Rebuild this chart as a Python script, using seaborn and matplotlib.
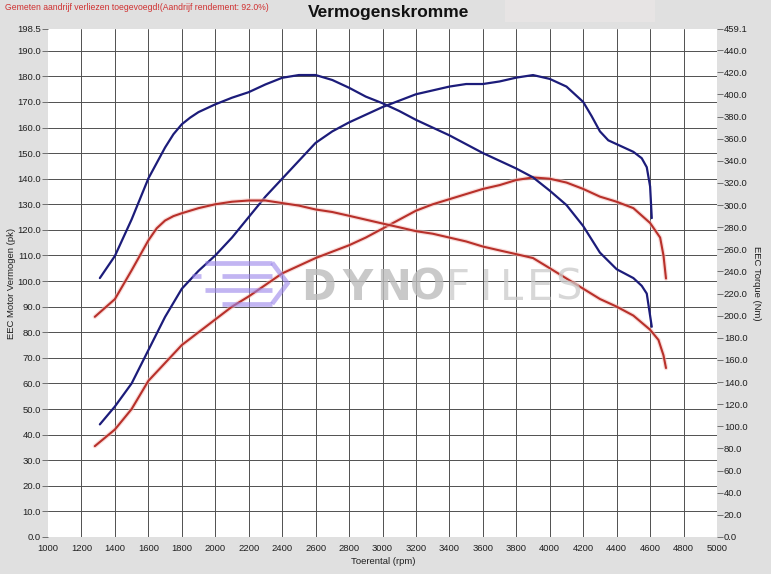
import matplotlib
matplotlib.use("Agg")
import matplotlib.pyplot as plt
import seaborn as sns
import pandas as pd
from matplotlib.patches import Rectangle, Polygon

# ---------------- data ----------------
blue_power_rpm = [1310, 1400, 1500, 1600, 1700, 1800, 1900, 2000, 2100, 2200, 2300, 2400, 2500, 2600,
                  2700, 2800, 2900, 3000, 3100, 3200, 3300, 3400, 3500, 3600, 3700, 3800, 3900, 4000,
                  4100, 4200, 4250, 4300, 4350, 4400, 4500, 4550, 4580, 4600, 4610]
blue_power_pk = [44, 51, 60, 73, 86, 97, 104, 110, 117, 125, 133, 140, 147, 154,
                 158.5, 162, 165, 168, 170.5, 173, 174.5, 176, 177, 177, 178, 179.5, 180.5, 179,
                 176, 170, 164.5, 158.5, 155, 153.5, 150.5, 148, 144.5, 137, 124.6]

blue_torque_rpm = [1310, 1400, 1500, 1600, 1700, 1750, 1800, 1850, 1900, 2000, 2100, 2200, 2300, 2400,
                   2500, 2600, 2700, 2800, 2900, 3000, 3100, 3200, 3300, 3400, 3500, 3600, 3700, 3800,
                   3900, 4000, 4100, 4200, 4300, 4400, 4500, 4550, 4580, 4610]
blue_torque_nm = [234, 254, 287, 324, 352, 364, 373, 379, 384, 391, 397, 402, 409, 415,
                  417.5, 417.5, 413, 406, 398, 392, 385, 377, 370, 363, 355, 347, 340, 333,
                  325, 313, 300, 281, 257, 242, 234, 227, 220, 190]

red_power_rpm = [1280, 1400, 1500, 1600, 1700, 1800, 1900, 2000, 2100, 2200, 2300, 2400, 2500, 2600,
                 2700, 2800, 2900, 3000, 3100, 3200, 3300, 3400, 3500, 3600, 3700, 3800, 3900, 4000,
                 4100, 4200, 4300, 4400, 4500, 4600, 4660, 4680, 4695]
red_power_pk = [35.5, 42, 50, 61, 68, 75, 80, 85, 90, 94, 98.5, 103, 106, 109,
                111.5, 114, 117, 120.5, 124, 127.5, 130, 132, 134, 136, 137.5, 139.5, 140.5, 140,
                138.5, 136, 133, 131, 128.5, 122.7, 117, 110, 101]

red_torque_rpm = [1280, 1400, 1500, 1600, 1650, 1700, 1750, 1800, 1900, 2000, 2100, 2200, 2300, 2400,
                  2500, 2600, 2700, 2800, 2900, 3000, 3100, 3200, 3300, 3400, 3500, 3600, 3700, 3800,
                  3900, 4000, 4100, 4200, 4300, 4400, 4500, 4600, 4650, 4680, 4695]
red_torque_nm = [199, 215, 241, 268, 279, 286, 290, 292.6, 297.2, 300.7, 303, 304.1, 304.1, 301.8,
                 299.5, 296, 293.7, 290.3, 286.8, 283.3, 279.9, 276.4, 274.1, 270.6, 267.1, 262.5, 259, 255.6,
                 252.1, 242.9, 233.6, 224.4, 215.1, 208.2, 200.1, 187.3, 178.1, 164.2, 152.7]

x_ticks = list(range(1000, 5001, 200))
left_ticks = list(range(0, 191, 10)) + [198.5]
right_ticks = list(range(0, 441, 20)) + [459.1]

title = "Vermogenskromme"
note = "Gemeten aandrijf verliezen toegevoegd!(Aandrijf rendement: 92.0%)"
xlabel = "Toerental (rpm)"
ylabel_left = "EEC Motor Vermogen (pk)"
ylabel_right = "EEC Torque (Nm)"

# ---------------- style ----------------
sns.set_style("white")
plt.rcParams['font.family'] = ['Liberation Sans', 'DejaVu Sans']

BG = "#e0e0e0"
BLUE = "#1c1c7a"
RED = "#b8302a"
GLOW = "#f4c0bc"

fig = plt.figure(figsize=(7.71, 5.74), dpi=100, facecolor=BG)
fig.patches.append(Rectangle((505 / 771, 1 - 22 / 574), 150 / 771, 22 / 574,
                             transform=fig.transFigure, facecolor="#e7e4e4", edgecolor="none", zorder=0))
ax = fig.add_axes([48 / 771, 37 / 574, 669 / 771, 508 / 574])
ax.set_facecolor("white")
ax2 = ax.twinx()

ax.set_xlim(1000, 5000)
ax.set_ylim(0, 198.5)
ax2.set_ylim(0, 459.1)

for s in list(ax.spines.values()) + list(ax2.spines.values()):
    s.set_visible(False)

# grid
for v in x_ticks[1:-1]:
    ax.axvline(v, color="#505050", lw=0.7, zorder=1)
for v in left_ticks[1:-1]:
    ax.axhline(v, color="#505050", lw=0.7, zorder=1)

# lines
dfs = {
    "bp": pd.DataFrame({"rpm": blue_power_rpm, "val": blue_power_pk}),
    "bt": pd.DataFrame({"rpm": blue_torque_rpm, "val": blue_torque_nm}),
    "rp": pd.DataFrame({"rpm": red_power_rpm, "val": red_power_pk}),
    "rt": pd.DataFrame({"rpm": red_torque_rpm, "val": red_torque_nm}),
}
kw = dict(sort=False, solid_joinstyle="round", solid_capstyle="round")
sns.lineplot(data=dfs["rp"], x="rpm", y="val", ax=ax, color=GLOW, lw=3.2, alpha=0.55, zorder=2, **kw)
sns.lineplot(data=dfs["rp"], x="rpm", y="val", ax=ax, color=RED, lw=1.5, zorder=3, **kw)
sns.lineplot(data=dfs["bp"], x="rpm", y="val", ax=ax, color=BLUE, lw=1.6, zorder=3, **kw)
sns.lineplot(data=dfs["rt"], x="rpm", y="val", ax=ax2, color=GLOW, lw=3.2, alpha=0.55, zorder=2, **kw)
sns.lineplot(data=dfs["rt"], x="rpm", y="val", ax=ax2, color=RED, lw=1.5, zorder=3, **kw)
sns.lineplot(data=dfs["bt"], x="rpm", y="val", ax=ax2, color=BLUE, lw=1.6, zorder=3, **kw)

# ticks
ax.set_xticks(x_ticks)
ax.set_xticklabels([str(t) for t in x_ticks])
ax.set_yticks(left_ticks)
ax.set_yticklabels([f"{t:.1f}" for t in left_ticks])
ax2.set_yticks(right_ticks)
ax2.set_yticklabels([f"{t:.1f}" for t in right_ticks])
ax.tick_params(axis="x", length=0, pad=5, labelsize=6.8, colors="#202020")
ax.tick_params(axis="y", left=True, length=4, width=0.7, color="#707070", pad=1, labelsize=6.8,
               labelcolor="#202020")
ax2.tick_params(axis="y", right=True, length=4, width=0.7, color="#707070", pad=1, labelsize=6.8,
                labelcolor="#202020")
ax.set_xlabel("")
ax.set_ylabel("")
ax2.set_ylabel("")

# watermark (letters spaced like the original logo)
wm_y = 1 - 288 / 574
for ch, cx in zip("DYNO", [318, 357, 394, 428]):
    fig.text(cx / 771, wm_y, ch, ha="center", va="center", fontsize=30, fontweight="bold",
             color="#bcbcbc", alpha=0.8, zorder=10, family="DejaVu Sans")
for ch, cx in zip("FILES", [458, 486, 511, 540, 568]):
    fig.text(cx / 771, wm_y, ch, ha="center", va="center", fontsize=30,
             color="#cacaca", alpha=0.75, zorder=10, family="DejaVu Sans")
purple = "#9a85ea"
for k, yy in enumerate([0.540, 0.513, 0.486, 0.459]):
    xs = 0.235 + 0.025 * (k % 2)
    ax2.plot([xs, 0.335], [yy, yy], transform=ax2.transAxes, color=purple, lw=3.4,
             alpha=0.6, zorder=5, solid_capstyle="butt")
ax2.plot([0.215, 0.228], [0.513, 0.513], transform=ax2.transAxes, color=purple, lw=3.4,
         alpha=0.6, zorder=5, solid_capstyle="butt")
ax2.add_patch(Polygon([[0.335, 0.540], [0.358, 0.4995], [0.335, 0.459]], closed=False, fill=False,
                      transform=ax2.transAxes, edgecolor=purple, lw=3.4, alpha=0.6, zorder=5))

# texts
fig.text(389 / 771, 1 - 12 / 574, title, ha="center", va="center", fontsize=12.5, fontweight="bold",
         color="#111111")
fig.text(5 / 771, 1 - 8 / 574, note, ha="left", va="center", fontsize=6.2, color="#d03030")
fig.text(383 / 771, 1 - 561 / 574, xlabel, ha="center", va="center", fontsize=6.8, color="#202020")
fig.text(12 / 771, 1 - 283 / 574, ylabel_left, ha="center", va="center", rotation=90, fontsize=6.8,
         color="#202020")
fig.text(757 / 771, 1 - 283 / 574, ylabel_right, ha="center", va="center", rotation=270, fontsize=6.8,
         color="#202020")

fig.savefig("out.png", dpi=100, facecolor=BG)
